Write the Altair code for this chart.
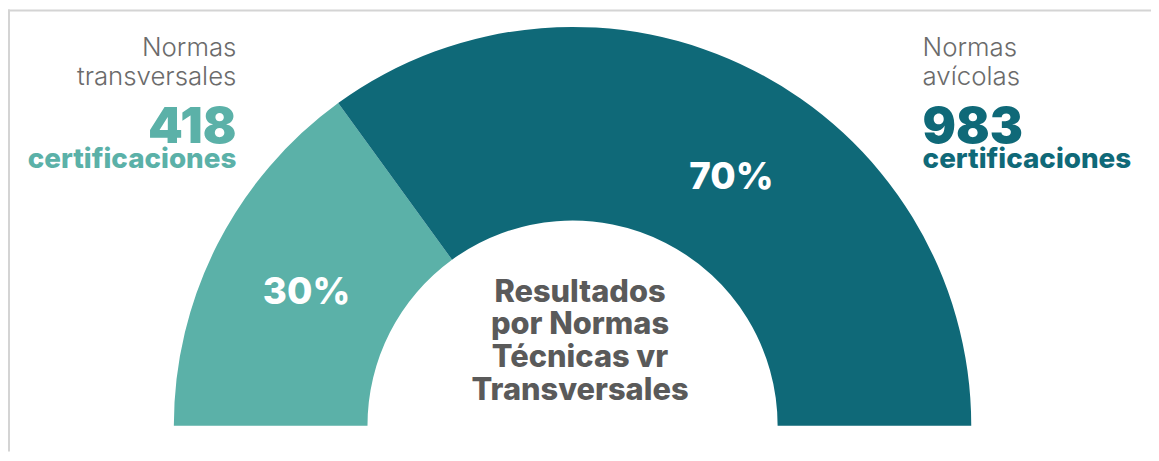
import math
import altair as alt
import pandas as pd

# ---- data ----
categories = ["Normas transversales", "Normas avícolas"]
percentages = [30, 70]
percent_labels = ["30%", "70%"]
certificaciones = [418, 983]
label_line1 = ["Normas", "Normas"]
label_line2 = ["transversales", "avícolas"]
center_title = ["Resultados", "por Normas", "Técnicas vr", "Transversales"]
colors = ["#5BB1A8", "#0F6978"]

df = pd.DataFrame({
    "categoria": categories,
    "pct": percentages,
    "etiqueta": percent_labels,
    "orden": [0, 1],
})

W, H = 1151, 445
CX, CY = 568.5, 419
R_OUT, R_IN = 401.5, 206.5

theta = alt.Theta("pct:Q", stack=True,
                  scale=alt.Scale(range=[-math.pi / 2, math.pi / 2]))
color = alt.Color("categoria:N",
                  scale=alt.Scale(domain=categories, range=colors),
                  legend=None)

arcs = alt.Chart(df).mark_arc(radius=R_OUT, radius2=R_IN).encode(
    theta=theta,
    color=color,
    order=alt.Order("orden:Q"),
    x=alt.value(CX), y=alt.value(CY),
)

def pct_label(i, dx, dy):
    return alt.Chart(df).mark_text(
        radius=(R_OUT + R_IN) / 2, font="Inter", fontWeight=800, fontSize=37,
        color="white", baseline="middle", align="center", dx=dx, dy=dy,
    ).encode(
        theta=theta,
        order=alt.Order("orden:Q"),
        text=alt.condition(alt.datum.orden == i, "etiqueta:N", alt.value("")),
        x=alt.value(CX), y=alt.value(CY),
    )

lbl30 = pct_label(0, 3, 5)
lbl70 = pct_label(1, 22, 22)

side_df = pd.DataFrame({
    "l1": label_line1,
    "l2": label_line2,
    "num": [str(v) for v in certificaciones],
    "cert": ["certificaciones"] * 2,
    "categoria": categories,
})

def side_block(i, xpos, align):
    d = side_df.iloc[[i]]
    base = alt.Chart(d)
    t1 = base.mark_text(font="Inter", fontWeight=300, fontSize=26, color="#6B6B6B",
                        align=align, baseline="alphabetic").encode(
        text="l1:N", x=alt.value(xpos), y=alt.value(47))
    t2 = base.mark_text(font="Inter", fontWeight=300, fontSize=26, color="#6B6B6B",
                        align=align, baseline="alphabetic").encode(
        text="l2:N", x=alt.value(xpos), y=alt.value(76))
    t3 = base.mark_text(font="Inter", fontWeight=900, fontSize=50,
                        align=align, baseline="alphabetic").encode(
        text="num:N", color=color, x=alt.value(xpos), y=alt.value(134))
    t4 = base.mark_text(font="Inter", fontWeight=800, fontSize=28,
                        align=align, baseline="alphabetic").encode(
        text="cert:N", color=color, x=alt.value(xpos), y=alt.value(160))
    return t1 + t2 + t3 + t4

left = side_block(0, 230, "right")
right = side_block(1, 921, "left")

center_df = pd.DataFrame({"t": ["\n".join(center_title)]})
center = alt.Chart(center_df).mark_text(
    font="Inter", fontWeight=800, fontSize=31, color="#5A5A5A",
    align="center", baseline="alphabetic", lineBreak="\n", lineHeight=33,
).encode(text="t:N", x=alt.value(576), y=alt.value(294))

frame_top = alt.Chart(center_df).mark_rule(color="#D4D4D4", strokeWidth=2).encode(
    x=alt.value(0), x2=alt.value(W), y=alt.value(1))
frame_left = alt.Chart(center_df).mark_rule(color="#D4D4D4", strokeWidth=2).encode(
    x=alt.value(1), y=alt.value(0), y2=alt.value(H))

chart = alt.layer(
    frame_top, frame_left, arcs, lbl30, lbl70, left, right, center
).properties(
    width=W, height=H, padding=0,
    autosize=alt.AutoSizeParams(type="none"),
).configure_view(stroke=None)

chart.save("out.html", embed_options={"renderer": "svg", "actions": False})
